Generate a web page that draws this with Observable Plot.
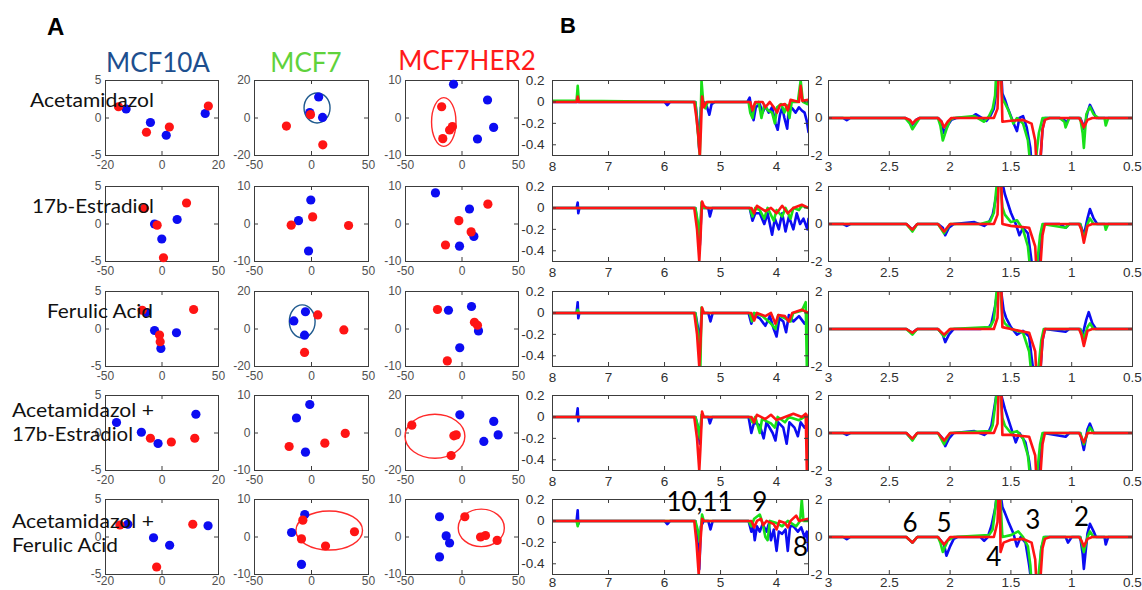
<!DOCTYPE html>
<html><head><meta charset="utf-8">
<script src="https://cdn.jsdelivr.net/npm/d3@7"></script>
<script src="https://cdn.jsdelivr.net/npm/@observablehq/plot@0.6"></script>
<style>
body{margin:0;background:#fff;}
#fig{position:relative;width:1142px;height:590px;overflow:hidden;background:#fff;}
#fig svg{position:absolute;}
</style></head><body><div id="fig"></div>
<script>
// ---------------- DATA ----------------
const cellLines = ["MCF10A", "MCF7", "MCF7HER2"];
const treatments = [["Acetamidazol"], ["17b-Estradiol"], ["Ferulic Acid"], ["Acetamidazol +", "17b-Estradiol"], ["Acetamidazol +", "Ferulic Acid"]];
// axis half-ranges of the score plots [row][col]
const xLim = [[20, 50, 50], [50, 50, 50], [50, 50, 50], [20, 50, 50], [20, 50, 50]];
const yLim = [[5, 20, 10], [5, 10, 10], [5, 20, 10], [5, 10, 20], [5, 10, 10]];
// score points [x, y, group]  b = control (blue), r = treated (red)
const pts11 = [[-15.4,1.5,"r"],[-12.7,1.2,"b"],[-4.1,-0.6,"b"],[2.6,-1.2,"r"],[15.3,0.6,"b"],[16.4,1.6,"r"],[-5.5,-1.9,"r"],[1.5,-2.3,"b"]];
const pts12 = [[6.3,11.2,"b"],[-1.6,2.9,"b"],[-0.9,1.8,"r"],[9.7,0.3,"b"],[-22,-4.3,"r"],[9.9,-14.3,"r"]];
const pts13 = [[-7.5,9,"b"],[22.6,4.8,"b"],[28,-2.5,"b"],[13.7,-5.6,"b"],[-18,3,"r"],[-8.5,-2.3,"r"],[-11,-3.2,"r"],[-17,-5.5,"r"]];
const pts21 = [[21.7,2.8,"r"],[-15.5,2.1,"r"],[13.4,0.6,"b"],[-6.6,0,"b"],[-4.3,-0.15,"r"],[-0.2,-2,"b"],[1.3,-4.5,"r"]];
const pts22 = [[-0.6,6.4,"b"],[-11.4,0.9,"b"],[1,1.9,"r"],[-17.8,-0.3,"r"],[32.5,-0.4,"r"],[-2.6,-7.2,"b"]];
const pts23 = [[-23.5,8.3,"b"],[22.9,5.3,"r"],[6.6,4,"b"],[-2.8,0.9,"r"],[8.1,-2.1,"r"],[10.5,-3.3,"b"],[-14.6,-5.6,"r"],[-2.2,-5.9,"b"]];
const pts31 = [[-17.5,2.5,"r"],[-14,2.2,"b"],[28,2.6,"r"],[-6.6,-0.2,"b"],[12.8,-0.5,"b"],[-2.2,-0.8,"r"],[-1.6,-1.7,"r"],[-1,-2.6,"b"]];
const pts32 = [[-5.3,9.2,"b"],[5.5,7.5,"r"],[-15.5,4.3,"b"],[-6.1,-3.3,"b"],[28.4,-0.5,"r"],[-6.1,-12.5,"r"]];
const pts33 = [[-21.7,5.2,"r"],[-12,5,"b"],[8.4,6,"b"],[11,1.8,"r"],[13.7,1,"r"],[14.6,-0.5,"b"],[-2,-5,"b"],[-13,-8.5,"r"]];
const pts41 = [[-16.1,1.4,"b"],[12,2.5,"b"],[-7.3,0.1,"b"],[-4.1,-0.7,"r"],[-1.4,-1.4,"b"],[3.3,-1.2,"r"],[11.6,-0.7,"r"]];
const pts42 = [[-1.5,7.6,"b"],[-13.2,4,"b"],[29.6,-0.1,"r"],[11.7,-2.7,"r"],[-19.6,-3.6,"r"],[-5.3,-5.1,"b"]];
const pts43 = [[-1.9,9.7,"b"],[-44.4,4.2,"r"],[28.1,6.2,"b"],[32,-1,"b"],[19.3,-4.5,"b"],[-5.1,-1,"r"],[-7.2,-1.5,"r"],[-9.6,-12,"r"]];
const pts51 = [[-14.9,1.6,"r"],[-12.1,1.7,"b"],[10.9,1.7,"r"],[16.3,1.5,"b"],[-3,-0.1,"b"],[2.7,-1.1,"b"],[-1.9,-4,"r"]];
const pts52 = [[-5.9,6,"b"],[-7.6,4.5,"r"],[-17.5,1.2,"b"],[-8.8,-0.5,"r"],[12.3,-2.4,"r"],[37.7,1.4,"r"],[-8.8,-7.3,"b"]];
const pts53 = [[-19.9,5.4,"b"],[2.5,5.4,"r"],[-14,0.3,"b"],[-11,-1.6,"b"],[16.4,0,"r"],[20.8,0.4,"r"],[31.1,-0.9,"r"],[-19.9,-5.3,"b"]];
// cluster ellipses [row, col, cx, cy, rx, ry, group]
const ellipses = [[0,1,5.3,5.1,11.4,8,"b"],[0,2,-15.7,-1.2,10.8,6.5,"r"],[2,1,-7.7,3.8,11.3,8.8,"b"],[3,2,-23.5,-2,26.5,11.7,"r"],[4,1,16,1.6,29.2,5.2,"r"],[4,2,17.5,2.3,20.4,5,"r"]];

// NMR difference spectra, [ppm, intensity]; B = MCF10A, G = MCF7, R = MCF7HER2
const hi1B = [[8,0],[6.0,0],[5.95,-0.03],[5.9,0],[5.45,0],[5.41,-0.2],[5.38,-0.45],[5.35,-0.05],[5.3,0],[5.24,-0.05],[5.2,-0.12],[5.16,-0.02],[5.1,0],[4.52,0],[4.48,0.04],[4.44,-0.1],[4.41,-0.17],[4.37,-0.05],[4.3,-0.02],[4.25,-0.1],[4.2,-0.04],[4.14,-0.1],[4.08,-0.05],[4.02,-0.2],[3.98,-0.26],[3.94,-0.12],[3.9,-0.05],[3.86,-0.15],[3.81,-0.25],[3.78,-0.05],[3.72,-0.06],[3.66,-0.1],[3.6,-0.05],[3.55,-0.08],[3.5,-0.1],[3.46,-0.18],[3.43,-0.28]];
const hi1G = [[8,0.01],[7.57,0.01],[7.55,0.15],[7.53,0.01],[5.45,0],[5.41,-0.25],[5.37,-0.5],[5.34,0.2],[5.31,0],[5.27,-0.06],[5.23,0],[4.5,0],[4.47,-0.1],[4.43,-0.15],[4.39,-0.02],[4.32,0],[4.27,-0.15],[4.22,-0.03],[4.15,-0.08],[4.08,-0.1],[4.03,-0.2],[3.99,-0.05],[3.92,-0.02],[3.86,-0.1],[3.82,-0.03],[3.77,-0.15],[3.73,0],[3.62,0],[3.57,0.2],[3.53,0],[3.45,-0.02],[3.43,0]];
const hi1R = [[8,0],[7.57,0],[7.55,0.05],[7.53,0],[5.47,0],[5.43,-0.15],[5.4,-0.3],[5.37,-0.5],[5.35,-0.25],[5.33,0.05],[5.3,-0.05],[5.25,0],[4.47,0],[4.43,-0.08],[4.38,0],[4.25,0],[4.2,-0.05],[4.12,0],[4.05,-0.05],[3.99,-0.1],[3.94,-0.03],[3.85,-0.02],[3.8,-0.08],[3.75,0.02],[3.6,0],[3.57,0.15],[3.54,0.01],[3.43,0.02]];
const hi2B = [[8,0],[7.57,0],[7.55,0.05],[7.54,-0.05],[7.52,0],[5.45,0],[5.4,-0.2],[5.37,-0.35],[5.34,0],[5.22,0],[5.19,-0.08],[5.15,0],[4.48,0],[4.43,-0.12],[4.38,-0.05],[4.3,-0.05],[4.22,-0.15],[4.16,-0.05],[4.08,-0.25],[4.03,-0.1],[3.96,-0.2],[3.9,-0.05],[3.84,-0.22],[3.78,-0.08],[3.7,-0.2],[3.64,-0.05],[3.58,-0.15],[3.52,-0.1],[3.45,-0.2],[3.43,-0.1]];
const hi2G = [[8,0],[5.45,0],[5.4,-0.15],[5.37,-0.3],[5.34,0.05],[5.3,0],[4.48,0],[4.43,-0.08],[4.38,0],[4.3,-0.02],[4.22,-0.1],[4.16,0],[4.05,-0.12],[4.0,-0.02],[3.9,-0.08],[3.84,0],[3.75,-0.1],[3.7,0],[3.6,-0.02],[3.55,0.02],[3.43,0]];
const hi2R = [[8,0],[5.47,0],[5.42,-0.2],[5.38,-0.5],[5.36,-0.3],[5.33,0.06],[5.3,0.02],[5.25,0],[4.45,0],[4.4,-0.05],[4.35,0.02],[4.2,-0.03],[4.1,0],[4.0,-0.05],[3.9,0.02],[3.8,-0.05],[3.7,0],[3.55,0.03],[3.43,0]];
const hi3B = [[8,0],[7.57,0],[7.55,0.1],[7.54,-0.05],[7.52,0],[5.45,0],[5.4,-0.15],[5.37,-0.35],[5.34,0],[5.22,0],[5.18,-0.08],[5.14,0],[4.5,0],[4.45,-0.1],[4.4,-0.02],[4.3,-0.05],[4.2,-0.12],[4.12,-0.03],[4.05,-0.15],[4.0,-0.22],[3.95,-0.05],[3.88,-0.08],[3.83,-0.18],[3.78,-0.02],[3.7,-0.08],[3.6,-0.03],[3.5,-0.1],[3.43,-0.05]];
const hi3G = [[8,0],[7.57,0],[7.55,0.03],[7.53,0],[5.45,0],[5.4,-0.2],[5.36,-0.5],[5.34,0.05],[5.3,0],[4.48,0],[4.44,-0.08],[4.4,0],[4.25,-0.03],[4.1,-0.1],[4.02,-0.15],[3.97,-0.02],[3.85,-0.05],[3.75,-0.08],[3.7,0],[3.55,0.02],[3.48,0.1],[3.46,-0.5],[3.44,0],[3.43,0]];
const hi3R = [[8,0],[5.47,0],[5.42,-0.2],[5.38,-0.5],[5.36,-0.3],[5.33,0.05],[5.3,0],[4.45,0],[4.4,-0.07],[4.35,0],[4.2,-0.03],[4.1,0],[4.02,-0.1],[3.97,-0.02],[3.85,-0.03],[3.78,-0.08],[3.72,0],[3.55,0.03],[3.43,0]];
const hi4B = [[8,0],[7.57,0],[7.55,0.08],[7.54,-0.04],[7.52,0],[5.45,0],[5.4,-0.1],[5.37,-0.25],[5.34,0],[5.22,0],[5.19,-0.06],[5.15,0],[4.5,0],[4.45,-0.15],[4.4,-0.05],[4.3,-0.08],[4.23,-0.2],[4.18,-0.05],[4.07,-0.15],[4.02,-0.22],[3.97,-0.05],[3.88,-0.1],[3.82,-0.25],[3.77,-0.05],[3.68,-0.1],[3.62,-0.18],[3.57,-0.05],[3.5,-0.1],[3.43,-0.05]];
const hi4G = [[8,0],[5.45,0],[5.4,-0.1],[5.37,-0.2],[5.34,0.02],[5.3,0],[4.48,0],[4.43,-0.05],[4.38,0],[4.3,-0.15],[4.26,-0.02],[4.1,-0.06],[4.03,-0.1],[3.98,0],[3.85,-0.05],[3.78,0],[3.6,-0.03],[3.5,0],[3.43,0]];
const hi4R = [[8,0],[5.47,0],[5.42,-0.2],[5.38,-0.5],[5.36,-0.3],[5.33,0.05],[5.3,0],[4.45,0],[4.4,-0.05],[4.35,0.02],[4.2,-0.02],[4.1,0.02],[4.0,-0.03],[3.85,0],[3.7,0.03],[3.55,0],[3.48,0.03],[3.46,-0.5],[3.44,0],[3.43,0.02]];
const hi5B = [[8,0],[7.57,0],[7.55,0.1],[7.54,-0.03],[7.52,0],[6.0,0],[5.95,-0.03],[5.9,0],[5.45,0],[5.41,-0.2],[5.38,-0.45],[5.35,-0.05],[5.3,0],[5.22,0],[5.18,-0.08],[5.14,0],[4.5,0],[4.45,-0.1],[4.42,-0.03],[4.39,-0.18],[4.35,-0.05],[4.3,-0.1],[4.25,-0.03],[4.18,-0.1],[4.14,-0.03],[4.1,-0.18],[4.05,-0.08],[4.0,-0.28],[3.96,-0.1],[3.9,-0.12],[3.84,-0.08],[3.8,-0.28],[3.76,-0.05],[3.7,-0.05],[3.62,-0.1],[3.56,-0.06],[3.5,-0.15],[3.46,-0.1],[3.43,-0.28]];
const hi5G = [[8,0],[7.57,0],[7.55,-0.05],[7.53,0],[5.45,0],[5.4,-0.1],[5.37,-0.2],[5.33,0.06],[5.3,0],[4.5,0],[4.45,-0.05],[4.4,0.02],[4.3,0.06],[4.25,-0.02],[4.2,-0.15],[4.16,-0.18],[4.12,0],[4.0,-0.02],[3.9,-0.05],[3.8,0],[3.65,-0.05],[3.58,0],[3.55,0.2],[3.52,0],[3.43,0]];
const hi5R = [[8,0],[5.47,0],[5.43,-0.2],[5.39,-0.5],[5.36,-0.2],[5.33,0.02],[5.3,0],[4.45,0],[4.4,-0.06],[4.35,0],[4.28,0.02],[4.24,-0.04],[4.18,0],[4.05,-0.03],[4.0,-0.08],[3.95,0],[3.85,-0.02],[3.8,-0.06],[3.75,0],[3.65,0.05],[3.6,0],[3.43,0.02]];

const lo1B = [[3,0],[2.88,0],[2.85,-0.12],[2.82,0],[2.37,0],[2.33,-0.15],[2.31,-0.35],[2.28,-0.1],[2.25,0],[2.1,0],[2.07,-0.2],[2.05,-0.8],[2.02,-0.4],[1.99,-0.1],[1.95,0],[1.82,0.05],[1.79,0.2],[1.75,0.05],[1.7,-0.15],[1.67,0.1],[1.64,0.5],[1.62,1.4],[1.61,2.5],[1.58,2.5],[1.57,1.3],[1.55,1.0],[1.53,0.6],[1.5,0.1],[1.47,-0.4],[1.45,-0.7],[1.43,0],[1.4,0.1],[1.37,-0.5],[1.34,-1.6],[1.33,-2.5],[1.26,-2.5],[1.24,-0.6],[1.22,0],[1.1,0],[1.06,-0.1],[1.05,-0.3],[1.02,0],[0.93,0],[0.91,-0.3],[0.9,-0.6],[0.88,0],[0.87,0.3],[0.85,0.7],[0.82,0.3],[0.8,0],[0.5,0]];
const lo1G = [[3,0],[2.37,0],[2.33,-0.3],[2.31,-0.6],[2.28,-0.3],[2.25,0],[2.1,0],[2.08,-0.4],[2.06,-1.2],[2.03,-0.6],[2.0,-0.1],[1.97,0],[1.8,0.1],[1.72,-0.2],[1.68,0.1],[1.65,0.5],[1.63,1.2],[1.62,2.5],[1.59,2.5],[1.57,1.0],[1.55,0.8],[1.52,0.4],[1.48,-0.3],[1.45,0],[1.4,-0.3],[1.36,-1.2],[1.34,-2.5],[1.3,-2.5],[1.27,-0.8],[1.24,0],[1.1,0],[1.06,-0.2],[1.05,-0.5],[1.02,0],[0.93,0],[0.91,-0.8],[0.9,-1.6],[0.88,0.2],[0.85,0.6],[0.82,0.2],[0.78,0],[0.73,0],[0.72,-0.4],[0.7,0],[0.5,0]];
const lo1R = [[3,0],[2.37,0],[2.33,-0.1],[2.31,-0.3],[2.28,-0.1],[2.25,0],[2.1,0],[2.07,-0.2],[2.05,-0.5],[2.02,-0.2],[1.99,0],[1.9,0],[1.64,0],[1.61,0.5],[1.6,2.5],[1.58,2.5],[1.57,-0.2],[1.5,-0.15],[1.4,-0.1],[1.33,-0.3],[1.3,-1.2],[1.29,-2.5],[1.26,-2.5],[1.24,-0.6],[1.22,-0.1],[1.18,0],[0.94,0],[0.92,-0.2],[0.9,-0.5],[0.87,-0.1],[0.83,0],[0.5,0]];
const lo2B = [[3,0],[2.88,0],[2.85,-0.1],[2.82,0],[2.36,0],[2.31,-0.3],[2.27,0],[2.1,0],[2.06,-0.2],[2.04,-0.6],[2.01,-0.2],[1.97,0],[1.8,0.1],[1.72,-0.1],[1.68,0.1],[1.65,0.5],[1.62,1.5],[1.6,2.5],[1.57,2.2],[1.55,1.6],[1.53,1.2],[1.5,0.6],[1.46,0],[1.43,-0.6],[1.4,-0.2],[1.36,-0.5],[1.34,-1.5],[1.32,-2.5],[1.27,-2.5],[1.25,-0.6],[1.23,0],[1.1,0],[1.05,-0.2],[1.02,0],[0.93,0],[0.9,-0.6],[0.87,0.3],[0.85,0.8],[0.82,0.3],[0.79,0],[0.5,0]];
const lo2G = [[3,0],[2.36,0],[2.31,-0.4],[2.27,0],[2.1,0],[2.05,-0.5],[2.0,0],[1.75,0],[1.67,0.15],[1.64,0.6],[1.61,2.5],[1.59,2.5],[1.57,0.9],[1.55,0.5],[1.5,0.1],[1.45,0.2],[1.4,-0.3],[1.36,-1.2],[1.34,-2.5],[1.29,-2.5],[1.26,-0.6],[1.24,0],[1.05,-0.2],[1.02,0],[0.93,0],[0.9,-0.8],[0.87,0],[0.85,0.3],[0.82,0],[0.73,0],[0.72,-0.3],[0.7,0],[0.5,0]];
const lo2R = [[3,0],[2.36,0],[2.31,-0.3],[2.27,0],[2.1,0],[2.05,-0.4],[2.0,0],[1.64,0],[1.61,0.5],[1.6,2.5],[1.58,2.5],[1.57,0],[1.5,-0.1],[1.35,-0.2],[1.3,-1.2],[1.29,-2.5],[1.26,-2.5],[1.24,-0.6],[1.22,0],[0.94,0],[0.92,-0.3],[0.9,-1.0],[0.87,-0.1],[0.83,0],[0.5,0]];
const lo3B = [[3,0],[2.36,0],[2.31,-0.2],[2.27,0],[2.1,0],[2.06,-0.3],[2.04,-0.7],[2.01,-0.3],[1.97,0],[1.75,0],[1.68,0.1],[1.66,0.3],[1.63,1.2],[1.6,2.5],[1.58,2.0],[1.56,1.0],[1.54,0.6],[1.5,0.1],[1.45,-0.3],[1.4,-0.1],[1.35,-0.4],[1.33,-1.5],[1.31,-2.5],[1.26,-2.5],[1.24,-0.6],[1.22,0],[1.05,-0.15],[1.02,0],[0.93,0],[0.91,-0.3],[0.88,0.5],[0.86,0.9],[0.83,0.3],[0.8,0],[0.5,0]];
const lo3G = [[3,0],[2.36,0],[2.31,-0.3],[2.27,0],[2.1,0],[2.05,-0.4],[2.0,0],[1.67,0.1],[1.64,0.5],[1.61,2.5],[1.59,2.5],[1.57,0.6],[1.55,0.3],[1.5,0],[1.4,-0.2],[1.35,-1.2],[1.33,-2.5],[1.28,-2.5],[1.25,-0.6],[1.23,0],[0.93,0],[0.9,-0.5],[0.87,0.1],[0.85,0.3],[0.82,0],[0.5,0]];
const lo3R = [[3,0],[2.36,0],[2.31,-0.2],[2.27,0],[2.1,0],[2.05,-0.3],[2.0,0],[1.64,0],[1.61,0.6],[1.6,2.5],[1.58,2.5],[1.57,0.1],[1.5,0],[1.35,-0.2],[1.3,-1.2],[1.29,-2.5],[1.26,-2.5],[1.24,-0.6],[1.22,0],[0.94,0],[0.92,-0.3],[0.9,-0.9],[0.87,-0.1],[0.83,0],[0.5,0]];
const lo4B = [[3,0],[2.88,0],[2.85,-0.1],[2.82,0],[2.36,0],[2.31,-0.35],[2.27,0],[2.1,0],[2.06,-0.3],[2.04,-0.7],[2.01,-0.3],[1.97,0],[1.8,0.1],[1.72,-0.1],[1.68,0.1],[1.66,0.4],[1.62,2.0],[1.6,2.5],[1.57,1.8],[1.55,1.3],[1.53,0.9],[1.5,0.3],[1.46,-0.5],[1.43,0],[1.38,-0.5],[1.35,-1.5],[1.33,-2.5],[1.27,-2.5],[1.25,-0.6],[1.23,0],[1.05,-0.2],[1.02,0],[0.93,0],[0.9,-0.9],[0.87,0.2],[0.85,0.5],[0.82,0],[0.5,0]];
const lo4G = [[3,0],[2.36,0],[2.31,-0.4],[2.27,0],[2.1,0],[2.05,-0.6],[2.0,0],[1.67,0.1],[1.65,0.4],[1.61,2.5],[1.59,2.5],[1.57,0.8],[1.55,0.4],[1.5,0],[1.45,0.1],[1.4,-0.3],[1.36,-1.2],[1.34,-2.5],[1.29,-2.5],[1.26,-0.6],[1.24,0],[0.93,0],[0.9,-0.6],[0.87,0],[0.85,0.3],[0.82,0],[0.5,0]];
const lo4R = [[3,0],[2.36,0],[2.31,-0.3],[2.27,0],[2.1,0],[2.05,-0.4],[2.0,0],[1.64,0],[1.61,0.5],[1.6,2.5],[1.58,2.5],[1.57,-0.1],[1.5,-0.1],[1.35,-0.2],[1.3,-1.2],[1.29,-2.5],[1.26,-2.5],[1.24,-0.6],[1.22,0],[0.94,0],[0.9,-0.5],[0.87,0],[0.5,0]];
const lo5B = [[3,0],[2.88,0],[2.85,-0.12],[2.82,0],[2.36,0],[2.31,-0.3],[2.27,0],[2.1,0],[2.05,-0.4],[2.03,-1.0],[2.0,-0.5],[1.97,-0.1],[1.94,0],[1.75,0],[1.72,-0.2],[1.69,0],[1.66,0.6],[1.63,1.5],[1.61,2.5],[1.59,2.5],[1.57,1.6],[1.55,1.3],[1.52,0.8],[1.48,0.2],[1.45,-0.5],[1.42,0],[1.38,-0.3],[1.35,-1.5],[1.33,-2.5],[1.27,-2.5],[1.25,-0.6],[1.22,0],[1.05,0],[1.03,-0.3],[1.0,0],[0.93,0],[0.91,-0.9],[0.9,-1.7],[0.87,0.2],[0.85,0.7],[0.82,0.3],[0.8,0],[0.73,0],[0.72,-0.4],[0.7,0],[0.5,0]];
const lo5G = [[3,0],[2.36,0],[2.31,-0.3],[2.27,0],[2.1,0],[2.08,-0.3],[2.06,-0.8],[2.02,-0.2],[1.97,0],[1.68,0.1],[1.65,0.4],[1.61,2.5],[1.59,2.5],[1.57,0],[1.5,0.1],[1.44,0.3],[1.4,0],[1.36,-0.5],[1.34,-1.5],[1.33,-2.5],[1.28,-2.5],[1.25,-0.6],[1.23,0],[0.93,0],[0.9,-0.8],[0.87,0],[0.85,0.3],[0.82,0],[0.5,0]];
const lo5R = [[3,0],[2.36,0],[2.31,-0.3],[2.27,0],[2.1,0],[2.05,-0.4],[2.0,0],[1.64,0],[1.61,0.8],[1.6,2.5],[1.59,2.5],[1.585,-0.8],[1.56,-0.3],[1.5,-0.15],[1.4,-0.1],[1.33,-0.3],[1.3,-1.2],[1.29,-2.5],[1.26,-2.5],[1.24,-0.6],[1.22,-0.1],[1.18,0],[0.94,0],[0.92,-0.2],[0.9,-0.5],[0.87,-0.1],[0.83,0],[0.5,0]];

const hiTicksX = [8, 7, 6, 5, 4], hiTicksY = [0.2, 0, -0.2, -0.4];
const loTicksX = [3, 2.5, 2, 1.5, 1, 0.5], loTicksY = [2, 0, -2];
// peak assignments on the last row [label, ppm, intensity]
const notesHi = [["10,11", 5.375, 0.09], ["9", 4.30, 0.09], ["8", 3.57, -0.33]];
const notesLo = [["6", 2.33, 0.26], ["5", 2.05, 0.26], ["4", 1.64, -1.53], ["3", 1.32, 0.42], ["2", 0.92, 0.58]];

// ---------------- LAYOUT / STYLE ----------------
const fig = document.getElementById("fig");
const rowTop = [80, 186, 291, 395, 499];
const frameH = 75;
const labelPad = [5, 5, 5, 5, 2];
const scatLeft = [105, 254, 405], scatW = [113, 114, 113];
const specLeft = [552, 828], specW = [256, 304];
const blueC = "#0c0cf2", redC = "#ff1414", greenC = "#19e019";
const ellColor = {b: "#1f5a8e", r: "#ff2a2a"};
const axisFont = "'Liberation Sans Narrow','Liberation Sans',Arial,sans-serif";
const frameStroke = "#3c3c3c";

function put(svg, left, top) {
  svg.style.left = left + "px"; svg.style.top = top + "px";
  fig.appendChild(svg);
}

function scatter(pts, xl, yl, ells, left, top, w, pad) {
  const ml = 30, mr = 6, mt = 6, mb = 18;
  const xt = [-xl, 0, xl], yt = [-yl, 0, yl];
  const ellBox = {x1: d => d[2] - d[4], x2: d => d[2] + d[4], y1: d => d[3] - d[5], y2: d => d[3] + d[5], rx: 1000, ry: 1000, fill: "none", strokeWidth: 1.4};
  const svg = Plot.plot({
    width: w + ml + mr, height: frameH + mt + mb,
    marginLeft: ml, marginRight: mr, marginTop: mt, marginBottom: mb,
    x: {domain: [-xl, xl]}, y: {domain: [-yl, yl]},
    style: {fontFamily: axisFont, fontSize: "12px", color: "#505050", background: "transparent", overflow: "visible"},
    marks: [
      Plot.frame({stroke: frameStroke}),
      Plot.tickX(xt, {x: d => d, insetTop: frameH - 4, stroke: frameStroke}),
      Plot.tickX(xt, {x: d => d, insetBottom: frameH - 4, stroke: frameStroke}),
      Plot.tickY(yt, {y: d => d, insetRight: w - 4, stroke: frameStroke}),
      Plot.tickY(yt, {y: d => d, insetLeft: w - 4, stroke: frameStroke}),
      Plot.rect(ells.filter(d => d[6] === "b"), {...ellBox, stroke: ellColor.b}),
      Plot.rect(ells.filter(d => d[6] === "r"), {...ellBox, stroke: ellColor.r}),
      Plot.dot(pts.filter(d => d[2] === "b"), {x: d => d[0], y: d => d[1], r: 4.6, fill: blueC}),
      Plot.dot(pts.filter(d => d[2] === "r"), {x: d => d[0], y: d => d[1], r: 4.6, fill: redC}),
      Plot.axisX({ticks: xt, tickSize: 0, tickPadding: pad, tickFormat: d => String(d), label: null}),
      Plot.axisY({ticks: yt, tickSize: 0, tickPadding: 4, tickFormat: d => String(d), label: null})
    ]
  });
  put(svg, left - ml, top - mt);
}

function spectrum(series, xDom, yDom, xt, yt, notes, left, top, w, ml, pad) {
  const mr = 6, mt = 10, mb = 18;
  const line = (data, stroke) => Plot.line(data, {x: d => d[0], y: d => d[1], stroke, strokeWidth: 2.6, clip: true});
  const svg = Plot.plot({
    width: w + ml + mr, height: frameH + mt + mb,
    marginLeft: ml, marginRight: mr, marginTop: mt, marginBottom: mb,
    x: {domain: xDom}, y: {domain: yDom},
    style: {fontFamily: axisFont, fontSize: "13.5px", color: "#303030", background: "transparent", overflow: "visible"},
    marks: [
      line(series[0], blueC), line(series[1], greenC), line(series[2], redC),
      Plot.frame({stroke: frameStroke}),
      Plot.tickX(xt, {x: d => d, insetTop: frameH - 4, stroke: frameStroke}),
      Plot.tickX(xt, {x: d => d, insetBottom: frameH - 4, stroke: frameStroke}),
      Plot.tickY(yt, {y: d => d, insetRight: w - 4, stroke: frameStroke}),
      Plot.tickY(yt, {y: d => d, insetLeft: w - 4, stroke: frameStroke}),
      Plot.axisX({ticks: xt, tickSize: 0, tickPadding: pad + 1, tickFormat: d => String(d), label: null}),
      Plot.axisY({ticks: yt, tickSize: 0, tickPadding: ml > 32 ? 8 : 6, tickFormat: d => String(d), label: null}),
      Plot.text(notes, {x: d => d[1], y: d => d[2], text: d => d[0], lineAnchor: "bottom", fontSize: 26, fontFamily: "Lato, 'Open Sans', sans-serif", fill: "#000"})
    ]
  });
  put(svg, left - ml, top - mt);
}

const allPts = [[pts11, pts12, pts13], [pts21, pts22, pts23], [pts31, pts32, pts33], [pts41, pts42, pts43], [pts51, pts52, pts53]];
const hiSeries = [[hi1B, hi1G, hi1R], [hi2B, hi2G, hi2R], [hi3B, hi3G, hi3R], [hi4B, hi4G, hi4R], [hi5B, hi5G, hi5R]];
const loSeries = [[lo1B, lo1G, lo1R], [lo2B, lo2G, lo2R], [lo3B, lo3G, lo3R], [lo4B, lo4G, lo4R], [lo5B, lo5G, lo5R]];

for (let r = 0; r < 5; r++) {
  for (let c = 0; c < 3; c++) {
    scatter(allPts[r][c], xLim[r][c], yLim[r][c], ellipses.filter(e => e[0] === r && e[1] === c), scatLeft[c], rowTop[r], scatW[c], labelPad[r]);
  }
  spectrum(hiSeries[r], [8, 3.43], [-0.5, 0.2], hiTicksX, hiTicksY, r === 4 ? notesHi : [], specLeft[0], rowTop[r], specW[0], 36, labelPad[r]);
  spectrum(loSeries[r], [3, 0.5], [-2, 2], loTicksX, loTicksY, r === 4 ? notesLo : [], specLeft[1], rowTop[r], specW[1], 22, labelPad[r]);
}

// ---------------- TEXT OVERLAY ----------------
const overlay = d3.create("svg").attr("width", 1142).attr("height", 590)
  .style("left", "0px").style("top", "0px").style("pointer-events", "none");
const panelLetters = [["A", 47, 35, 24], ["B", 560, 33, 22]];
overlay.selectAll("text.pl").data(panelLetters).join("text")
  .attr("x", d => d[1]).attr("y", d => d[2]).attr("font-size", d => d[3])
  .attr("font-weight", "bold").attr("font-family", "'Liberation Sans',Arial,sans-serif").text(d => d[0]);
const headerX = [158, 306, 467], headerY = [72, 72, 70], headerColor = ["#1d4f8f", "#5fd23c", "#ff1a1a"];
cellLines.forEach((t, i) => {
  overlay.append("text").attr("x", headerX[i]).attr("y", headerY[i]).attr("text-anchor", "middle")
    .attr("font-size", 26).attr("font-family", "Lato,'Open Sans',sans-serif").attr("fill", headerColor[i]).text(t);
});
const rowLabelX = [30, 32, 47, 12, 12];
const rowLabelY = [107, 213, 318, 417, 528];
const rowLabelW = [[124], [122], [106], [142, 121], [142, 106]];
const rowLineGap = 24;
treatments.forEach((lines, r) => {
  lines.forEach((t, j) => {
    overlay.append("text").attr("x", rowLabelX[r]).attr("y", rowLabelY[r] + j * rowLineGap)
      .attr("font-size", 19.5).attr("font-family", "Lato,'Open Sans',sans-serif").attr("fill", "#111")
      .attr("textLength", rowLabelW[r][j]).attr("lengthAdjust", "spacingAndGlyphs").text(t);
  });
});
fig.appendChild(overlay.node());
</script></body></html>
